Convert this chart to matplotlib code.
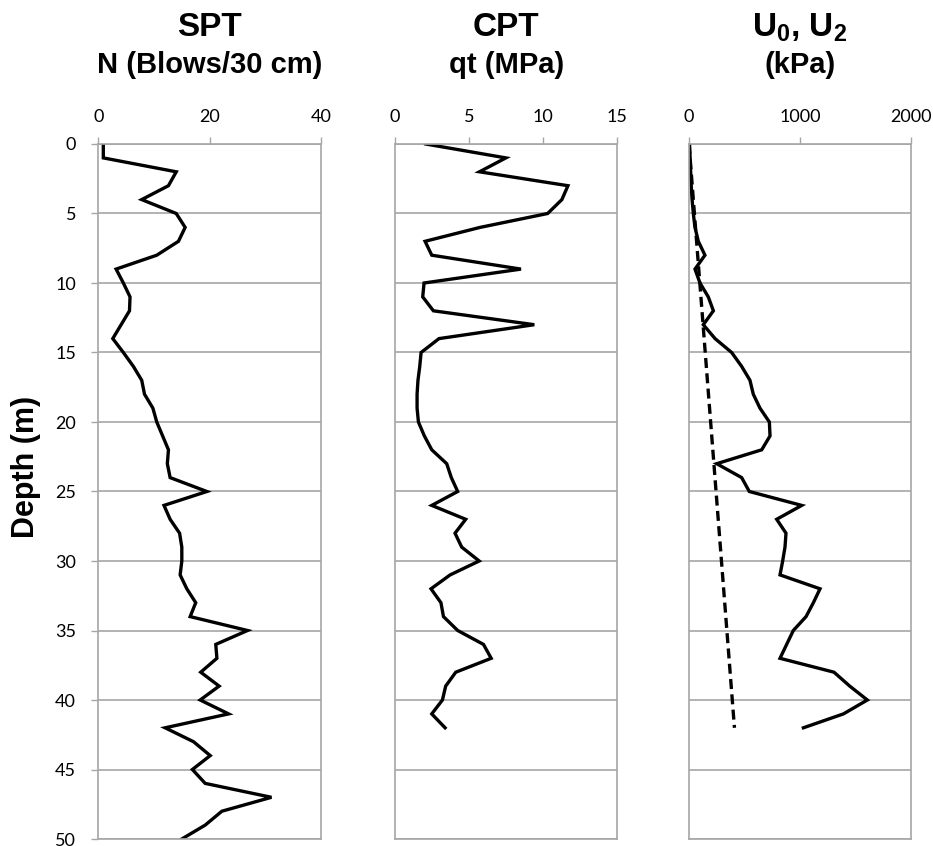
import matplotlib
matplotlib.use("Agg")
import matplotlib.pyplot as plt

plt.rcParams['mathtext.fontset'] = 'custom'
plt.rcParams['mathtext.rm'] = 'Liberation Sans:bold'
plt.rcParams['mathtext.it'] = 'Liberation Sans:bold'
plt.rcParams['mathtext.default'] = 'regular'

# SPT blow counts vs depth
spt_depth = [0, 1, 2, 3, 4, 5, 6, 7, 8, 9, 10, 11, 12, 14, 15, 16, 17, 18, 19, 20,
             22, 23, 24, 25, 26, 27, 28, 29, 30, 31, 32, 33, 34, 35, 36, 37, 38, 39,
             40, 41, 42, 43, 44, 45, 46, 47, 48, 49, 50]
spt_n = [0.9, 0.9, 14.0, 12.6, 7.8, 14.0, 15.6, 14.4, 10.5, 3.2, 4.5, 5.7, 5.6, 2.6, 4.5,
         6.3, 7.8, 8.3, 9.8, 10.5, 12.6, 12.4, 12.9, 19.5, 11.8, 12.9, 14.6, 15.0, 15.0,
         14.7, 15.9, 17.5, 16.5, 26.8, 21.1, 21.3, 18.4, 21.7, 18.3, 23.4, 12.0, 17.1,
         20.1, 16.9, 19.2, 31.1, 22.2, 19.2, 15.0]

# CPT corrected cone resistance vs depth
cpt_depth = [0, 1, 2, 3, 4, 5, 6, 7, 8, 9, 10, 11, 12, 13, 14, 15, 16, 17, 18, 19, 20,
             21, 22, 23, 24, 25, 26, 27, 28, 29, 30, 31, 32, 33, 34, 35, 36, 37, 38,
             39, 40, 41, 42]
cpt_qt = [2.07, 7.48, 5.7, 11.67, 11.26, 10.3, 5.74, 2.03, 2.48, 8.5, 1.96, 1.87, 2.59,
          9.4, 2.97, 1.76, 1.67, 1.55, 1.49, 1.49, 1.58, 1.98, 2.48, 3.49, 3.8, 4.23,
          2.48, 4.77, 4.05, 4.5, 5.68, 3.72, 2.43, 3.1, 3.27, 4.23, 5.97, 6.49, 4.1,
          3.42, 3.2, 2.48, 3.38]

# pore pressures vs depth
u2_depth = list(range(0, 43))
u2 = [5, 10, 15, 20, 28, 39, 54, 84, 144, 54, 99, 174, 220, 129, 235, 385, 475, 550,
      580, 640, 725, 731, 656, 250, 475, 544, 1017, 791, 875, 866, 845, 821, 1182,
      1122, 1056, 941, 881, 821, 1308, 1450, 1609, 1393, 1032]
u0_depth = [0, 42]
u0 = [0, 410]

W, H = 933, 846
fig = plt.figure(figsize=(W / 100, H / 100), dpi=100)

top_px, bot_px = 144, 839
panels = [
    (98.3, 321.0, [0, 40], [0, 20, 40], spt_n, spt_depth, "SPT", "N (Blows/30 cm)"),
    (395.0, 617.3, [0, 15], [0, 5, 10, 15], cpt_qt, cpt_depth, "CPT", "qt (MPa)"),
    (689.0, 910.7, [0, 2000], [0, 1000, 2000], u2, u2_depth, "U$_0$, U$_2$", "(kPa)"),
]

grid_col = '#A6A6A6'
axes = []
for i, (l, r, xlim, xticks, xs, ys, t1, t2) in enumerate(panels):
    ax = fig.add_axes([l / W, 1 - bot_px / H, (r - l) / W, (bot_px - top_px) / H])
    ax.plot(xs, ys, color='black', lw=2.4, solid_joinstyle='miter')
    ax.set_xlim(xlim)
    ax.set_ylim(50, 0)
    ax.set_xticks(xticks)
    ax.set_yticks(range(0, 51, 5))
    ax.xaxis.tick_top()
    ax.grid(axis='y', color=grid_col, lw=1.2)
    ax.set_axisbelow(True)
    for s in ax.spines.values():
        s.set_color(grid_col)
        s.set_linewidth(1.2)
    ax.tick_params(axis='both', color=grid_col, length=5, width=1.0,
                   labelsize=13, pad=9)
    for lab in ax.get_xticklabels() + ax.get_yticklabels():
        lab.set_family('Lato')
    if i > 0:
        ax.tick_params(axis='y', labelleft=False, length=0)
    ax.text(0.5, 1.167, t1, transform=ax.transAxes, ha='center', va='center',
            fontsize=24, fontweight='bold', family='Liberation Sans')
    ax.text(0.5, 1.114, t2, transform=ax.transAxes, ha='center', va='center',
            fontsize=21, fontweight='bold', family='Liberation Sans')
    axes.append(ax)

axes[0].tick_params(axis='y', pad=11)
axes[2].plot(u0, u0_depth, color='black', lw=2.4, ls=(0, (3, 1.6)))

fig.text(26 / W, 1 - 467 / H, "Depth (m)", rotation=90, ha='center', va='center',
         fontsize=22, fontweight='bold', family='Liberation Sans')

fig.savefig("out.png", dpi=100)
